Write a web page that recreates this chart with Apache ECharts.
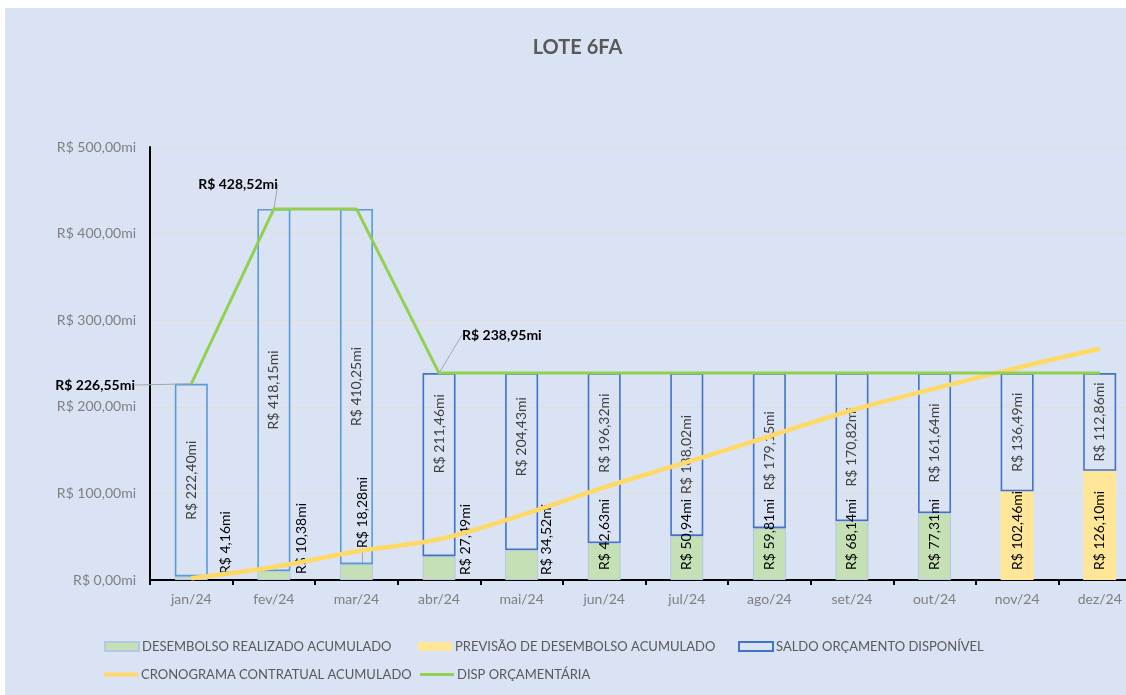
<!DOCTYPE html>
<html><head><meta charset="utf-8">
<script src="https://cdn.jsdelivr.net/npm/echarts@6/dist/echarts.min.js"></script>
<style>
html,body{margin:0;padding:0;background:#ffffff;overflow:hidden;width:1126px;height:695px;}
#c{position:absolute;left:5px;top:8px;width:1145px;height:687px;background:#dae3f3;}
</style>
</head><body><div id="c"></div>
<script>
const categories = ['jan/24','fev/24','mar/24','abr/24','mai/24','jun/24','jul/24','ago/24','set/24','out/24','nov/24','dez/24'];
const desembolsoRealizado = [4.16,10.38,18.28,27.49,34.52,42.63,50.94,59.81,68.14,77.31,'-','-'];
const previsaoDesembolso = ['-','-','-','-','-','-','-','-','-','-',102.46,126.10];
const saldoOrcamento = [222.40,418.15,410.25,211.46,204.43,196.32,188.02,179.15,170.82,161.64,136.49,112.86];
const cronogramaContratual = [2,15,33,47,75,107,136,166,196,221,245,267];
const dispOrcamentaria = [226.55,428.52,428.52,238.95,238.95,238.95,238.95,238.95,238.95,238.95,238.95,238.95];
const yAxisMin = 0, yAxisMax = 500, yAxisStep = 100;

const FONT = 'Lato';
function brl(v){ return 'R$ ' + Number(v).toFixed(2).replace('.', ',') + 'mi'; }

const saldoBorder = ['#5b9bd5','#5b9bd5','#5b9bd5','#4472c4','#4472c4','#4472c4','#4472c4','#4472c4','#4472c4','#4472c4','#4472c4','#4472c4'];

const chart = echarts.init(document.getElementById('c'), null, {renderer:'canvas'});

function legendAt(name, left, top, icon, h){
  return {data:[{name:name, icon:icon}], left:left, top:top, padding:0, itemWidth:34, itemHeight:h, itemGap:0,
    textStyle:{fontFamily:FONT, fontSize:13, color:'#595959', padding:[0,0,0,-2]}, selectedMode:false};
}

const option = {
  animation:false,
  backgroundColor:'#dae3f3',
  textStyle:{fontFamily:FONT},
  title:{text:'LOTE 6FA', left:'center', top:25, textStyle:{fontFamily:FONT, fontSize:20, fontWeight:'bold', color:'#595959'}},
  legend:[
    legendAt('DESEMBOLSO REALIZADO ACUMULADO', 99, 632, 'rect', 9),
    legendAt('PREVISÃO DE DESEMBOLSO ACUMULADO', 413, 632, 'rect', 9),
    legendAt('SALDO ORÇAMENTO DISPONÍVEL', 733, 632, 'rect', 9),
    legendAt('CRONOGRAMA CONTRATUAL ACUMULADO', 99, 660, 'rect', 4),
    legendAt('DISP ORÇAMENTÁRIA', 415, 660, 'rect', 3)
  ],
  grid:{left:145, top:139, width:991, height:433, containLabel:false},
  xAxis:{type:'category', data:categories, boundaryGap:true,
    axisLine:{lineStyle:{color:'#000', width:2}},
    axisTick:{show:true, alignWithLabel:false, length:5, lineStyle:{color:'#000', width:2}},
    axisLabel:{fontFamily:FONT, fontSize:14, color:'#7f7f7f', margin:12},
    splitLine:{show:false}},
  yAxis:{type:'value', min:yAxisMin, max:yAxisMax, interval:yAxisStep,
    axisLine:{show:true, lineStyle:{color:'#000', width:2}},
    axisTick:{show:false},
    axisLabel:{fontFamily:FONT, fontSize:14, color:'#7f7f7f', margin:14, formatter:brl},
    splitLine:{show:true, lineStyle:{color:'#e2ddd8', width:1}}},
  series:[
    {name:'DESEMBOLSO REALIZADO ACUMULADO', type:'bar', stack:'a', barWidth:33,
      data: desembolsoRealizado.map((v,i)=> i===2 ? {value:v, labelLine:{show:true}} : v),
      itemStyle:{color:'#c5e0b4', borderColor:'#b4c7e7', borderWidth:1},
      label:{show:true, position:'insideBottom', rotate:90, align:'left', verticalAlign:'middle', distance:10,
        fontFamily:FONT, fontSize:14, color:'#000', formatter:p=>brl(p.value)},
      labelLine:{show:false, lineStyle:{color:'#a6a6a6', width:1}},
      labelLayout:function(p){
        // label is rotated 90deg: local dx = screen up, local dy = screen right
        const m={0:[-4,34],1:[-4,28],2:[22,6],3:[-5,26],4:[-5,25]};
        const d=m[p.dataIndex]; return d?{dx:d[0], dy:d[1]}:{};
      }, z:2},
    {name:'PREVISÃO DE DESEMBOLSO ACUMULADO', type:'bar', stack:'a', barWidth:33,
      data: previsaoDesembolso,
      itemStyle:{color:'#ffe699'},
      label:{show:true, position:'insideBottom', rotate:90, align:'left', verticalAlign:'middle', distance:10,
        fontFamily:FONT, fontSize:14, color:'#000', formatter:p=>brl(p.value)}, z:2},
    {name:'SALDO ORÇAMENTO DISPONÍVEL', type:'bar', stack:'a', barWidth:33,
      data: saldoOrcamento.map((v,i)=>({value:v, itemStyle:{borderColor:saldoBorder[i]}})),
      itemStyle:{color:'rgba(0,0,0,0)', borderColor:'#4472c4', borderWidth:1.6},
      label:{show:true, position:'inside', rotate:90, align:'center', verticalAlign:'middle',
        fontFamily:FONT, fontSize:14, color:'#404040', formatter:p=>brl(p.value)},
      labelLayout:function(p){
        const m={3:31,4:25,5:25};
        return (p.dataIndex in m)?{dx:m[p.dataIndex]}:{};
      }, z:2},
    {name:'CRONOGRAMA CONTRATUAL ACUMULADO', type:'line', data:cronogramaContratual, smooth:0.35,
      symbol:'none', itemStyle:{color:'#ffd966'}, lineStyle:{color:'#ffd966', width:4.5}, z:5},
    {name:'DISP ORÇAMENTÁRIA', type:'line',
      data: dispOrcamentaria.map((v,i)=> (i===0||i===1||i===3) ? {value:v, label:{show:true}} : v),
      symbol:'circle', symbolSize:1, showSymbol:true,
      itemStyle:{color:'#92d050'}, lineStyle:{color:'#92d050', width:3}, z:6,
      label:{show:false, fontFamily:FONT, fontSize:14, fontWeight:'bold', color:'#000', formatter:p=>brl(p.value)},
      labelLine:{show:true, lineStyle:{color:'#a6a6a6', width:1}},
      labelLayout:function(p){
        if(p.dataIndex===0) return {x:130, y:377, align:'right', verticalAlign:'middle'};
        if(p.dataIndex===1) return {x:233, y:176, align:'center', verticalAlign:'middle'};
        if(p.dataIndex===3) return {x:457, y:327, align:'left', verticalAlign:'middle'};
        return {};
      }}
  ]
};
chart.setOption(option);
</script>
</body></html>
